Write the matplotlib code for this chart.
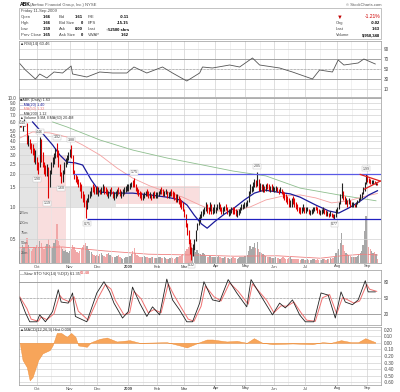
import numpy as np
import matplotlib
matplotlib.use("Agg")
import matplotlib.pyplot as plt
from matplotlib.patches import Rectangle

plt.rcParams['font.family'] = ['Liberation Sans', 'DejaVu Sans']

# ---- daily bars, one list per month (15-Sep-2008 .. 11-Sep-2009) ----
high_by_month = [
    [6.3, 6.1, 6.0, 6.4, 6.2, 5.9, 4.6, 4.2, 3.9, 3.8, 3.5, 3.3],
    [2.9, 2.6, 4.4, 4.2, 3.2, 2.6, 2.4, 2.5, 2.3, 2.2, 2.6, 2.9, 3.1, 3.5, 3.9, 3.3, 2.5, 2.1, 2.2, 2.6, 2.8, 3.0, 3.2],
    [3.4, 3.7, 3.0, 2.2, 2.0, 1.9, 1.8, 1.7, 1.6, 1.4, 1.3, 1.15, 1.2, 1.3, 1.4, 1.5, 1.6, 1.55, 1.5],
    [1.55, 1.5, 1.45, 1.5, 1.6, 1.55, 1.5, 1.45, 1.4, 1.45, 1.5, 1.4, 1.35, 1.4, 1.45, 1.5, 1.45, 1.4, 1.45, 1.5, 1.55, 1.6],
    [1.6, 1.65, 1.7, 1.75, 1.85, 1.6, 1.5, 1.45, 1.4, 1.35, 1.3, 1.35, 1.4, 1.45, 1.4, 1.35, 1.3, 1.35, 1.4, 1.35],
    [1.35, 1.4, 1.45, 1.5, 1.45, 1.4, 1.45, 1.4, 1.35, 1.4, 1.45, 1.4, 1.35, 1.3, 1.3, 1.25, 1.2, 1.15, 1.1],
    [0.95, 0.85, 0.7, 0.6, 0.5, 0.42, 0.45, 0.5, 0.6, 0.7, 0.8, 0.85, 0.9, 0.95, 1.0, 1.1, 1.05, 1.0, 1.1, 1.05, 1.0, 1.05],
    [1.0, 1.05, 1.1, 1.05, 1.0, 0.98, 1.02, 1.05, 1.0, 0.95, 0.95, 1.0, 1.0, 0.98, 0.95, 0.92, 0.95, 1.0, 1.05, 1.05, 1.1],
    [1.1, 1.15, 1.4, 1.6, 1.55, 1.7, 1.8, 1.75, 2.1, 1.8, 1.65, 1.6, 1.6, 1.55, 1.6, 1.65, 1.6, 1.55, 1.6, 1.55],
    [1.5, 1.55, 1.5, 1.45, 1.5, 1.45, 1.4, 1.35, 1.3, 1.25, 1.2, 1.15, 1.2, 1.25, 1.2, 1.1, 1.05, 1.0, 0.98, 1.0, 1.05, 1.0],
    [0.98, 1.0, 0.95, 0.92, 0.95, 0.98, 1.0, 1.02, 0.98, 0.95, 0.92, 0.95, 0.98, 0.95, 0.92, 0.9, 0.88, 0.9, 0.88, 0.85, 0.85, 0.95],
    [1.0, 1.1, 1.3, 1.65, 1.4, 1.25, 1.2, 1.15, 1.2, 1.15, 1.1, 1.1, 1.05, 1.1, 1.15, 1.2, 1.3, 1.35, 1.5, 1.7, 2.0],
    [1.95, 1.85, 1.8, 1.75, 1.75, 1.72, 1.7, 1.66],
]
low_by_month = [
    [5.5, 5.4, 5.0, 5.6, 5.6, 3.8, 3.6, 3.4, 3.1, 3.0, 2.6, 2.5],
    [2.2, 2.0, 2.3, 2.6, 2.3, 2.0, 1.9, 1.9, 1.2, 1.5, 2.0, 2.3, 2.5, 2.8, 2.9, 2.3, 1.9, 1.65, 1.7, 2.0, 2.3, 2.5, 2.7],
    [2.9, 2.8, 2.0, 1.8, 1.7, 1.6, 1.5, 1.4, 1.2, 1.1, 1.0, 0.78, 0.95, 1.1, 1.2, 1.25, 1.35, 1.3, 1.3],
    [1.3, 1.25, 1.3, 1.3, 1.35, 1.3, 1.3, 1.25, 1.2, 1.25, 1.3, 1.2, 1.15, 1.2, 1.25, 1.3, 1.25, 1.2, 1.25, 1.3, 1.35, 1.4],
    [1.4, 1.45, 1.5, 1.5, 1.5, 1.4, 1.3, 1.25, 1.2, 1.15, 1.15, 1.2, 1.25, 1.25, 1.2, 1.2, 1.15, 1.2, 1.2, 1.2],
    [1.2, 1.25, 1.3, 1.3, 1.25, 1.25, 1.3, 1.2, 1.2, 1.25, 1.25, 1.2, 1.15, 1.1, 1.1, 1.05, 1.0, 0.95, 0.9],
    [0.8, 0.65, 0.55, 0.45, 0.36, 0.32, 0.35, 0.4, 0.48, 0.6, 0.68, 0.72, 0.78, 0.82, 0.86, 0.9, 0.88, 0.85, 0.9, 0.85, 0.85, 0.88],
    [0.88, 0.92, 0.95, 0.9, 0.86, 0.85, 0.9, 0.92, 0.86, 0.82, 0.84, 0.88, 0.86, 0.85, 0.82, 0.8, 0.84, 0.88, 0.92, 0.94, 0.96],
    [0.98, 1.02, 1.1, 1.3, 1.35, 1.4, 1.5, 1.5, 1.55, 1.4, 1.4, 1.4, 1.35, 1.35, 1.4, 1.45, 1.4, 1.35, 1.4, 1.38],
    [1.35, 1.4, 1.35, 1.3, 1.35, 1.3, 1.2, 1.15, 1.1, 1.05, 1.0, 0.98, 1.0, 1.05, 1.0, 0.95, 0.9, 0.88, 0.86, 0.88, 0.9, 0.88],
    [0.88, 0.9, 0.85, 0.84, 0.86, 0.88, 0.9, 0.92, 0.88, 0.85, 0.84, 0.86, 0.88, 0.85, 0.82, 0.82, 0.8, 0.82, 0.8, 0.78, 0.77, 0.8],
    [0.88, 0.95, 1.05, 1.2, 1.15, 1.05, 1.05, 1.0, 1.05, 1.0, 0.98, 1.0, 0.98, 1.0, 1.05, 1.1, 1.15, 1.2, 1.3, 1.4, 1.6],
    [1.7, 1.65, 1.62, 1.6, 1.62, 1.6, 1.58, 1.59],
]
close_by_month = [
    [5.8, 5.6, 5.7, 6.0, 5.7, 4.0, 4.0, 3.6, 3.4, 3.2, 2.8, 3.0],
    [2.4, 2.3, 3.9, 2.8, 2.5, 2.2, 2.0, 2.2, 1.8, 2.1, 2.5, 2.7, 3.0, 3.3, 3.0, 2.4, 2.0, 1.9, 2.1, 2.5, 2.7, 2.9, 3.1],
    [3.2, 2.9, 2.1, 1.9, 1.8, 1.7, 1.6, 1.5, 1.3, 1.2, 1.05, 0.95, 1.15, 1.25, 1.35, 1.45, 1.4, 1.35, 1.45],
    [1.35, 1.4, 1.35, 1.45, 1.5, 1.4, 1.35, 1.3, 1.3, 1.4, 1.35, 1.25, 1.3, 1.35, 1.4, 1.35, 1.3, 1.35, 1.4, 1.45, 1.5, 1.5],
    [1.55, 1.6, 1.65, 1.6, 1.55, 1.45, 1.35, 1.3, 1.25, 1.2, 1.25, 1.3, 1.35, 1.3, 1.25, 1.25, 1.2, 1.3, 1.25, 1.25],
    [1.3, 1.35, 1.4, 1.35, 1.3, 1.35, 1.35, 1.25, 1.3, 1.35, 1.3, 1.25, 1.2, 1.15, 1.2, 1.1, 1.05, 1.0, 0.95],
    [0.85, 0.7, 0.6, 0.5, 0.4, 0.38, 0.42, 0.48, 0.58, 0.68, 0.75, 0.8, 0.85, 0.9, 0.95, 1.0, 0.95, 0.9, 1.0, 0.9, 0.92, 0.95],
    [0.95, 1.0, 1.0, 0.92, 0.9, 0.92, 0.98, 0.95, 0.88, 0.88, 0.92, 0.95, 0.9, 0.88, 0.85, 0.88, 0.92, 0.98, 1.0, 1.02, 1.05],
    [1.05, 1.1, 1.35, 1.45, 1.5, 1.6, 1.7, 1.55, 1.65, 1.45, 1.5, 1.45, 1.5, 1.45, 1.55, 1.5, 1.45, 1.5, 1.45, 1.45],
    [1.45, 1.45, 1.4, 1.35, 1.4, 1.35, 1.25, 1.2, 1.15, 1.1, 1.05, 1.05, 1.15, 1.1, 1.05, 1.0, 0.95, 0.92, 0.9, 0.95, 0.95, 0.92],
    [0.92, 0.95, 0.88, 0.88, 0.92, 0.95, 0.98, 0.95, 0.9, 0.88, 0.9, 0.92, 0.95, 0.88, 0.85, 0.85, 0.84, 0.86, 0.82, 0.8, 0.82, 0.9],
    [0.98, 1.05, 1.25, 1.3, 1.2, 1.1, 1.15, 1.05, 1.15, 1.05, 1.05, 1.05, 1.02, 1.08, 1.12, 1.18, 1.25, 1.32, 1.45, 1.65, 1.85],
    [1.75, 1.7, 1.68, 1.7, 1.72, 1.65, 1.65, 1.63],
]
vol_by_month = [  # millions of shares
    [30, 35, 45, 40, 50, 62, 45, 35, 30, 35, 40, 38],
    [45, 40, 55, 50, 38, 35, 42, 48, 60, 45, 40, 38, 50, 60, 97, 55, 45, 40, 35, 30, 32, 28, 25],
    [30, 35, 45, 40, 32, 28, 25, 30, 35, 40, 45, 50, 42, 35, 30, 28, 22, 20, 18],
    [20, 18, 22, 25, 20, 18, 15, 22, 25, 20, 18, 16, 15, 14, 18, 20, 15, 12, 10, 12, 15, 14],
    [15, 18, 22, 30, 37, 25, 20, 18, 15, 14, 16, 18, 15, 14, 12, 13, 15, 14, 12, 13],
    [12, 14, 15, 13, 12, 14, 12, 11, 10, 12, 14, 12, 11, 13, 15, 14, 18, 20, 22],
    [25, 30, 35, 40, 45, 50, 38, 30, 28, 32, 25, 22, 20, 24, 22, 18, 16, 15, 18, 16, 14, 15],
    [14, 16, 18, 15, 13, 12, 14, 15, 13, 12, 11, 12, 14, 13, 12, 11, 12, 14, 15, 16, 18],
    [18, 20, 30, 42, 35, 40, 50, 38, 52, 35, 28, 25, 22, 20, 18, 16, 15, 14, 13, 12],
    [12, 14, 13, 12, 11, 13, 15, 12, 11, 10, 12, 14, 11, 10, 9, 10, 11, 9, 8, 10, 9, 8],
    [8, 9, 8, 7, 8, 9, 10, 8, 9, 8, 7, 8, 9, 10, 8, 9, 10, 12, 11, 13, 15, 25],
    [30, 35, 50, 75, 45, 30, 25, 22, 20, 18, 16, 15, 14, 16, 18, 22, 25, 30, 45, 80, 118],
    [60, 40, 35, 30, 25, 28, 22, 10],
]
month_names = ["Oct", "Nov", "Dec", "2009", "Feb", "Mar", "Apr", "May", "Jun", "Jul", "Aug", "Sep"]

# indicator readings (trading-day index, value)
ma20_i = [9, 14, 23, 28, 33, 39, 44, 50, 56, 66, 79, 91, 103, 112, 117, 122, 127, 131, 136, 143,
          149, 157, 164, 171, 180, 189, 196, 207, 216, 223, 230, 237, 244, 250]
ma20_v = [6.06, 5.1, 3.71, 3.0, 2.58, 2.53, 2.42, 1.76, 1.36, 1.33, 1.33, 1.28, 1.22, 1.15, 1.03, 0.83,
          0.69, 0.63, 0.72, 0.85, 0.95, 1.15, 1.33, 1.42, 1.36, 1.31, 1.22, 1.03, 0.91, 0.87, 0.97, 1.10, 1.28, 1.40]
ma50_i = [0, 9, 21, 33, 44, 56, 68, 79, 91, 103, 114, 126, 136, 149, 161, 172, 184, 196, 207, 218, 230, 242, 250]
ma50_v = [4.3, 4.9, 4.8, 4.4, 3.71, 3.0, 2.27, 1.83, 1.55, 1.36, 1.22, 1.03, 0.91, 0.91, 0.99, 1.15,
          1.25, 1.28, 1.20, 1.08, 1.13, 1.25, 1.32]
ma200_i = [23, 33, 56, 79, 103, 126, 149, 172, 196, 223, 249]
ma200_v = [6.06, 5.45, 4.13, 3.33, 2.81, 2.45, 2.13, 1.92, 1.48, 1.28, 1.13]
volema_i = [0, 30, 60, 90, 120, 150, 180, 210, 225, 240, 250]
volema_v = [38, 40, 30, 22, 20, 17, 18, 12, 18, 22, 20]

rsi_i = [0, 4, 11, 14, 19, 24, 30, 36, 37, 47, 56, 65, 75, 80, 89, 100, 107, 117, 126, 128, 135, 147,
         154, 161, 163, 168, 182, 191, 205, 210, 219, 223, 227, 237, 241, 249]
rsi_v = [61, 48, 30, 40, 32, 44, 42, 56, 40, 34, 44, 42, 42, 54, 42, 54, 42, 26, 42, 54, 52, 58,
         54, 68, 72, 58, 52, 44, 30, 48, 44, 68, 58, 62, 70, 60]

sto_k_i = [0, 4, 7, 12, 14, 18, 23, 27, 29, 34, 37, 39, 47, 54, 59, 63, 66, 72, 76, 79, 84, 89, 93, 98,
           103, 107, 112, 117, 121, 126, 129, 135, 140, 146, 152, 159, 162, 172, 177, 182, 186, 191,
           196, 200, 206, 211, 216, 221, 225, 228, 233, 237, 242, 244, 249]
sto_k_v = [50, 22, 5, 5, 18, 5, 24, 65, 42, 40, 59, 15, 5, 59, 80, 61, 40, 12, 24, 70, 40, 15, 33, 18,
           85, 46, 27, 5, 5, 40, 80, 46, 43, 84, 59, 33, 84, 40, 18, 40, 31, 46,
           18, 5, 5, 59, 55, 12, 61, 42, 37, 46, 82, 61, 61]
sto_d_i = [0, 5, 8, 13, 15, 19, 24, 28, 30, 35, 38, 41, 48, 55, 60, 64, 67, 73, 77, 80, 85, 90, 94, 99,
           104, 108, 113, 118, 122, 127, 130, 136, 141, 147, 153, 160, 163, 173, 178, 183, 187, 192,
           197, 201, 207, 212, 217, 222, 226, 229, 234, 238, 243, 245, 250]
sto_d_v = [52, 30, 10, 6, 14, 9, 20, 55, 48, 42, 52, 25, 8, 50, 75, 66, 45, 18, 22, 62, 48, 22, 28, 22,
           76, 55, 32, 10, 6, 34, 72, 52, 44, 78, 62, 38, 76, 45, 22, 35, 34, 42,
           22, 8, 6, 50, 56, 20, 50, 47, 40, 44, 75, 66, 62]

macd_i = [0, 2, 5, 7, 9, 13, 16, 21, 23, 26, 29, 33, 36, 39, 41, 47, 50, 56, 61, 68, 77, 84, 103, 112,
          117, 126, 131, 135, 145, 152, 159, 164, 170, 177, 191, 205, 212, 218, 225, 232, 237, 242, 249]
macd_v = [0, -0.26, -0.37, -0.57, -0.52, -0.26, -0.16, -0.11, -0.04, 0.15, 0.15, 0.09, 0.15, 0.09, -0.04,
          -0.06, 0.01, 0.06, 0.08, 0.02, 0.04, 0.0, 0.01, -0.04, -0.07, 0.01, 0.05, 0.05, 0.02, 0.03, 0.0,
          0.07, 0.0, -0.02, -0.01, -0.02, 0.01, 0.0, 0.04, 0.01, 0.01, 0.07, 0.01]

# annotations: swing labels, support/resistance, triangle, shaded zones
swing_i = [2, 14, 26, 36, 12, 19, 29, 47, 80, 120, 166, 220, 242]
swing_v = [6.4, 4.4, 3.9, 3.7, 2.0, 1.2, 1.65, 0.78, 1.85, 0.32, 2.1, 0.77, 2.0]
swing_txt = ["6.40", "4.46", "3.92", "3.88", "1.90", "1.19", "1.68", "0.75", "1.75", "0.32", "2.05", "0.77", "1.99"]
swing_dy = [-1.5, 2.5, 2.5, 2.5, -2.5, -2.5, -2.5, -2.5, 2.5, -2.5, 2.5, -2.5, 2.5]
resist_start, resist_level = 37, 2.0
support_start, support_level = 47, 0.77
tri_i = [[238, 252], [241, 252]]
tri_v = [[1.98, 1.72], [1.45, 1.72]]
zones = [(-0.5, 13, 0.30, 3.9, "#e4e4e4"), (13, 32, 0.30, 3.0, "#f9dede"),
         (32, 67, 1.0, 1.55, "#e4e4e4"), (67, 126, 1.05, 1.55, "#f9dede")]

high = np.concatenate(high_by_month)
low = np.concatenate(low_by_month)
close = np.concatenate(close_by_month)
vol = np.concatenate(vol_by_month)
idx = np.arange(len(close))
month_start = np.cumsum([len(m) for m in close_by_month])[:-1]
month_mid = month_start + 10
down = np.r_[False, close[1:] < close[:-1]]

W, H = 400, 392
fig = plt.figure(figsize=(4, 3.92), dpi=100)
fig.patch.set_facecolor("white")


def add_panel(top, bottom, left=19, right=381):
    return fig.add_axes([left / W, 1 - bottom / H, (right - left) / W, (bottom - top) / H])


def ftext(x, y, s, **kw):
    kw.setdefault("fontsize", 3.3)
    kw.setdefault("va", "center")
    fig.text(x / W, 1 - y / H, s, **kw)


def style(ax, yticks, ylabels):
    ax.set_xlim(-0.5, 252.5)
    ax.set_yticks(yticks)
    ax.set_yticklabels(ylabels)
    ax.yaxis.tick_right()
    ax.tick_params(axis="y", length=0, labelsize=3.3, pad=2, colors="#444")
    ax.set_xticks(month_start)
    ax.set_xticks(month_mid, minor=True)
    ax.tick_params(axis="x", which="both", length=0, labelbottom=False)
    ax.grid(True, which="major", color="#d2d2d2", lw=0.5)
    ax.grid(True, which="minor", axis="x", color="#e6e6e6", lw=0.4)
    ax.set_axisbelow(True)
    for sp in ax.spines.values():
        sp.set_color("#999")
        sp.set_linewidth(0.5)


# ---- header ----
ftext(20, 5, "ABK", fontweight="bold", fontsize=3.6)
ftext(30, 5, "(Ambac Financial Group, Inc.) NYSE", color="#555", fontsize=3.0)
ftext(381, 5, "© StockCharts.com", ha="right", color="#555", fontsize=3.0)
fig.add_artist(Rectangle((19 / W, 1 - 39 / H), 362 / W, 31 / H, transform=fig.transFigure,
                         fill=False, ec="#aaa", lw=0.5))
ftext(21, 11, "Friday 11-Sep-2009", color="#444", fontsize=3.0)
rows = [("Open", "1.66", "Bid", "1.61", "P/E", "-0.11"),
        ("High", "1.66", "Bid Size", "0", "EPS", "-15.15"),
        ("Low", "1.59", "Ask", "0.00", "Last", "↑52500 shrs"),
        ("Prev Close", "1.65", "Ask Size", "0", "VWAP", "1.62")]
for r, y in zip(rows, [17, 23, 29.5, 35.5]):
    ftext(21, y, r[0], color="#444", fontsize=3.0)
    ftext(51, y, r[1], ha="right", fontweight="bold", fontsize=3.0)
    ftext(59, y, r[2], color="#444", fontsize=3.0)
    ftext(83, y, r[3], ha="right", fontweight="bold", fontsize=3.0)
    ftext(88, y, r[4], color="#444", fontsize=3.0)
    ftext(129, y, r[5], ha="right", fontweight="bold", fontsize=3.0)
ftext(340, 17, "▼", color="#c00000", fontsize=4.2, ha="center")
ftext(380, 17, "-1.21%", ha="right", color="#d00000", fontsize=3.6)
for lab, val, y in [("Chg", "-0.02", 23), ("Last", "1.63", 29.5), ("Volume", "9,950,348", 35.5)]:
    ftext(336, y, lab, color="#444", fontsize=3.0)
    ftext(380, y, val, ha="right", fontweight="bold", fontsize=3.0)

# ---- RSI ----
ax_rsi = add_panel(41, 97)
style(ax_rsi, [10, 30, 50, 70, 90], ["10", "30", "50", "70", "90"])
ax_rsi.set_ylim(-6, 106)
ax_rsi.axhline(70, color="#999", lw=0.6)
ax_rsi.axhline(30, color="#999", lw=0.6)
ax_rsi.axhline(50, color="#aaa", lw=0.5, ls=(0, (3, 2)))
ax_rsi.plot(rsi_i, rsi_v, color="#555", lw=0.6)
ax_rsi.fill_between(rsi_i, rsi_v, 30, where=np.array(rsi_v) < 30, color="#d03030", lw=0)
ftext(20, 44, "▲RSI(14) 60.46", color="#333", fontsize=3.0)

# ---- price + volume ----
ax_p = add_panel(98, 263)
pt = [0.5, 1.0, 1.5, 2.0, 2.5, 3.0, 3.5, 4.0, 4.5, 5.0, 6.0, 7.0, 8.0, 9.0, 10.0]
ax_p.set_yscale("log")
style(ax_p, pt, ["%.1f" % v for v in pt])
ax_p.yaxis.set_minor_locator(matplotlib.ticker.NullLocator())
ax_p.set_ylim(0.30, 10.1)

ax_v = ax_p.twinx()
ax_v.set_ylim(0, 412)
ax_v.set_xlim(-0.5, 252.5)
# shaded zones sit behind the volume bars
for x0, x1, y0, y1, c in zones:
    ax_v.add_patch(Rectangle((x0, y0), x1 - x0, y1 - y0, color=c, lw=0, zorder=0.5,
                             transform=ax_p.transData))
ax_v.bar(idx, vol, width=0.9, color=np.where(down, "#f0a8a8", "#a8a8a8"), lw=0, zorder=1)
ax_v.plot(volema_i, volema_v, color="#f08080", lw=0.6, zorder=2)
ax_v.set_yticks([])
for sp in ax_v.spines.values():
    sp.set_visible(False)
for v in [25, 50, 75, 100, 125]:
    ax_v.text(6, v, "%dm" % v, fontsize=2.8, color="#555", ha="right", va="center")
ax_p.set_zorder(ax_v.get_zorder() + 1)
ax_p.patch.set_visible(False)

ax_p.plot(ma200_i, ma200_v, color="#8fbf8f", lw=0.6)
ax_p.plot(ma50_i, ma50_v, color="#f4a0a0", lw=0.6)
ax_p.plot(ma20_i, ma20_v, color="#1a1a9a", lw=0.9)
ax_p.vlines(idx, low, high, colors=np.where(down, "#e00000", "#222222"), lw=0.8)
ax_p.hlines(resist_level, resist_start, 252.5, color="#5a5ae6", lw=0.9)
ax_p.hlines(support_level, support_start, 252.5, color="#2020c0", lw=0.9)
for xs, ys in zip(tri_i, tri_v):
    ax_p.plot(xs, ys, color="#e02020", lw=0.9)
for si, sv, st, dy in zip(swing_i, swing_v, swing_txt, swing_dy):
    ax_p.annotate(st, (si, sv), xytext=(0, dy), textcoords="offset points",
                  ha="center", va="bottom" if dy > 0 else "top", fontsize=2.6, color="#444",
                  bbox=dict(boxstyle="square,pad=0.1", fc="white", ec="#bbb", lw=0.3))

legend_rows = [("■ABK (Daily) 1.63", "#333"), ("—MA(20) 1.40", "#1a1a9a"), ("—MA(50) 1.32", "#f08080"),
               ("—MA(200) 1.12", "#333"), ("▲Volume 9.9M, EMA(60) 20.4M", "#333")]
for k, (s, c) in enumerate(legend_rows):
    ftext(20, 100.5 + 4.4 * k, s, color=c, fontsize=2.7)

# ---- slow stochastics ----
ax_s = add_panel(270, 325)
style(ax_s, [20, 50, 80], ["20", "50", "80"])
ax_s.set_ylim(-1, 102)
ax_s.axhline(80, color="#999", lw=0.6)
ax_s.axhline(20, color="#999", lw=0.6)
ax_s.axhline(50, color="#aaa", lw=0.5, ls=(0, (3, 2)))
ax_s.plot(sto_d_i, sto_d_v, color="#f07070", lw=0.7)
ax_s.plot(sto_k_i, sto_k_v, color="#222", lw=0.6)
ftext(20, 273.5, "—Slow STO %K(14) %D(3) 61.35,", color="#333", fontsize=2.9)
ftext(80, 273.5, "62.48", color="#e03030", fontsize=2.9)

# ---- MACD ----
ax_m = add_panel(327, 385)
mt = [0.2, 0.1, 0.0, -0.1, -0.2, -0.3, -0.4, -0.5, -0.6]
style(ax_m, mt, ["%.2f" % v for v in mt])
ax_m.set_ylim(-0.64, 0.24)
ax_m.fill_between(macd_i, macd_v, 0, color="#f7a55a", lw=0.3, ec="#f08a30")
ftext(20, 330, "▲MACD(12,26,9) Hist 0.006", color="#333", fontsize=2.9)

# month labels under price and MACD panels
for ax, y in [(ax_p, 266.5), (ax_m, 388.5)]:
    for pos, name in zip(month_start, month_names):
        xp = 19 + (pos + 0.5) / 253.0 * 362
        ftext(xp, y, name, ha="center", color="#444", fontsize=3.0,
              fontweight="bold" if name == "2009" else "normal")

fig.savefig("out.png", dpi=100, facecolor="white")
